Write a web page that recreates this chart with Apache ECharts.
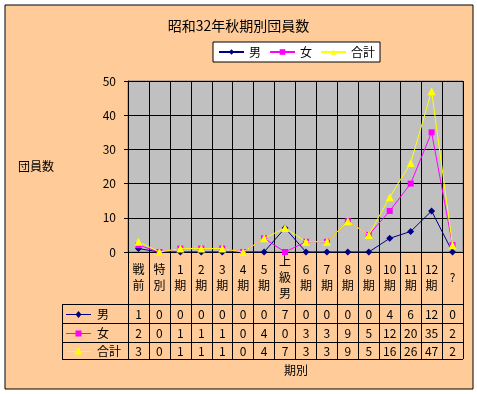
<!DOCTYPE html>
<html><head><meta charset="utf-8">
<script src="https://cdn.jsdelivr.net/npm/echarts@6/dist/echarts.min.js"></script>
<style>html,body{margin:0;padding:0;background:#fff}#c{width:477px;height:394px}</style>
</head><body><div id="c"></div>
<script>
const titleText = '昭和32年秋期別団員数';
const categories = ['戦前','特別','1期','2期','3期','4期','5期','上級男','6期','7期','8期','9期','10期','11期','12期','?'];
const men   = [1,0,0,0,0,0,0,7,0,0,0,0,4,6,12,0];
const women = [2,0,1,1,1,0,4,0,3,3,9,5,12,20,35,2];
const total = [3,0,1,1,1,0,4,7,3,3,9,5,16,26,47,2];
const seriesNames = ['男','女','合計'];
const yName = '団員数';
const xName = '期別';
const yMin = 0, yMax = 50, yInterval = 10;

const FONT = '"Noto Sans CJK JP", sans-serif';
const colors = ['#000080','#FF00FF','#FFFF00'];
const symbols = ['diamond','rect','triangle'];
const symSizes = [7,6,8];
const seriesData = [men, women, total];

const chart = echarts.init(document.getElementById('c'), null, {renderer:'canvas'});
const G = {left:128, right:14, top:81, bottom:142};
const plotBottom = 394 - G.bottom;      // 252
const rowLines = [304, 323, 342, 359];
const tableLeft = 62, tableRight = 463;

chart.setOption({
  animation:false,
  backgroundColor:'#ffffff',
  textStyle:{fontFamily:FONT},
  title:{text:titleText, left:'center', top:14,
    textStyle:{fontSize:14, fontWeight:'normal', color:'#000', fontFamily:FONT}},
  legend:{
    data:seriesNames, left:213, top:42, orient:'horizontal',
    backgroundColor:'#ffffff', borderColor:'#000', borderWidth:1, borderRadius:0,
    padding:[3,5], itemGap:8, itemWidth:25, itemHeight:7,
    textStyle:{fontSize:12, color:'#000', fontFamily:FONT, lineHeight:14}
  },
  grid:{left:G.left, right:G.right, top:G.top, bottom:G.bottom, show:true,
    backgroundColor:'#C0C0C0', borderColor:'#808080', borderWidth:1},
  xAxis:{
    type:'category', data:categories, boundaryGap:true,
    axisLine:{lineStyle:{color:'#000', width:1}},
    axisTick:{show:true, interval:0, length:rowLines[3]-plotBottom, lineStyle:{color:'#000'}},
    splitLine:{show:true, interval:0, lineStyle:{color:'#000', width:1}},
    axisLabel:{interval:0, margin:25, verticalAlign:'middle', lineHeight:16, fontSize:12, color:'#000', fontFamily:FONT,
      formatter:v => v.match(/\d+|./g).join('\n')}
  },
  yAxis:{
    type:'value', min:yMin, max:yMax, interval:yInterval,
    axisLine:{show:true, lineStyle:{color:'#000'}},
    axisTick:{show:true, length:4, lineStyle:{color:'#000'}},
    splitLine:{show:true, lineStyle:{color:'#000', width:1}},
    axisLabel:{margin:12, fontSize:12, color:'#000', fontFamily:FONT}
  },
  series: seriesNames.map((n,k)=>({
    name:n, type:'line', data:seriesData[k], symbol:symbols[k], symbolSize:symSizes[k],
    showAllSymbol:true,
    lineStyle:{color:colors[k], width:1}, itemStyle:{color:colors[k]}, z:2+k
  }))
});

// build data table + decorations
const g = [];
g.push({type:'rect', z:-10, shape:{x:5,y:5,width:468,height:384},
  style:{fill:'#FFCC99', stroke:'#000', lineWidth:1}});
g.push({type:'text', left:18, top:160, style:{text:yName, font:'12px '+FONT, fill:'#000'}});
g.push({type:'text', left:284, top:364, style:{text:xName, font:'12px '+FONT, fill:'#000'}});
// table horizontal lines
rowLines.forEach(y=>{
  g.push({type:'line', shape:{x1:tableLeft, y1:y+0.5, x2:tableRight, y2:y+0.5}, style:{stroke:'#000', lineWidth:1}});
});
g.push({type:'line', shape:{x1:tableLeft+0.5, y1:rowLines[0], x2:tableLeft+0.5, y2:rowLines[3]+1}, style:{stroke:'#000', lineWidth:1}});
seriesNames.forEach((n,k)=>{
  const yc = (rowLines[k]+rowLines[k+1])/2 + 1;
  g.push({type:'line', shape:{x1:66, y1:yc, x2:91, y2:yc}, style:{stroke:colors[k], lineWidth:1}});
  const cx = 78.5;
  if (k===0) g.push({type:'polygon', shape:{points:[[cx,yc-3.5],[cx+3,yc],[cx,yc+3.5],[cx-3,yc]]}, style:{fill:colors[k]}});
  if (k===1) g.push({type:'rect', shape:{x:cx-3,y:yc-3,width:6,height:6}, style:{fill:colors[k]}});
  if (k===2) g.push({type:'polygon', shape:{points:[[cx,yc-4],[cx+4,yc+3],[cx-4,yc+3]]}, style:{fill:colors[k]}});
  g.push({type:'text', x:97, y:yc, style:{text:n, font:'12px '+FONT, fill:'#000', verticalAlign:'middle', align:'left'}});
  seriesData[k].forEach((v,i)=>{
    const px = chart.convertToPixel({xAxisIndex:0}, i);
    g.push({type:'text', x:px, y:yc, style:{text:String(v), font:'12px '+FONT, fill:'#000', align:'center', verticalAlign:'middle'}});
  });
});
chart.setOption({graphic:g});
</script></body></html>
